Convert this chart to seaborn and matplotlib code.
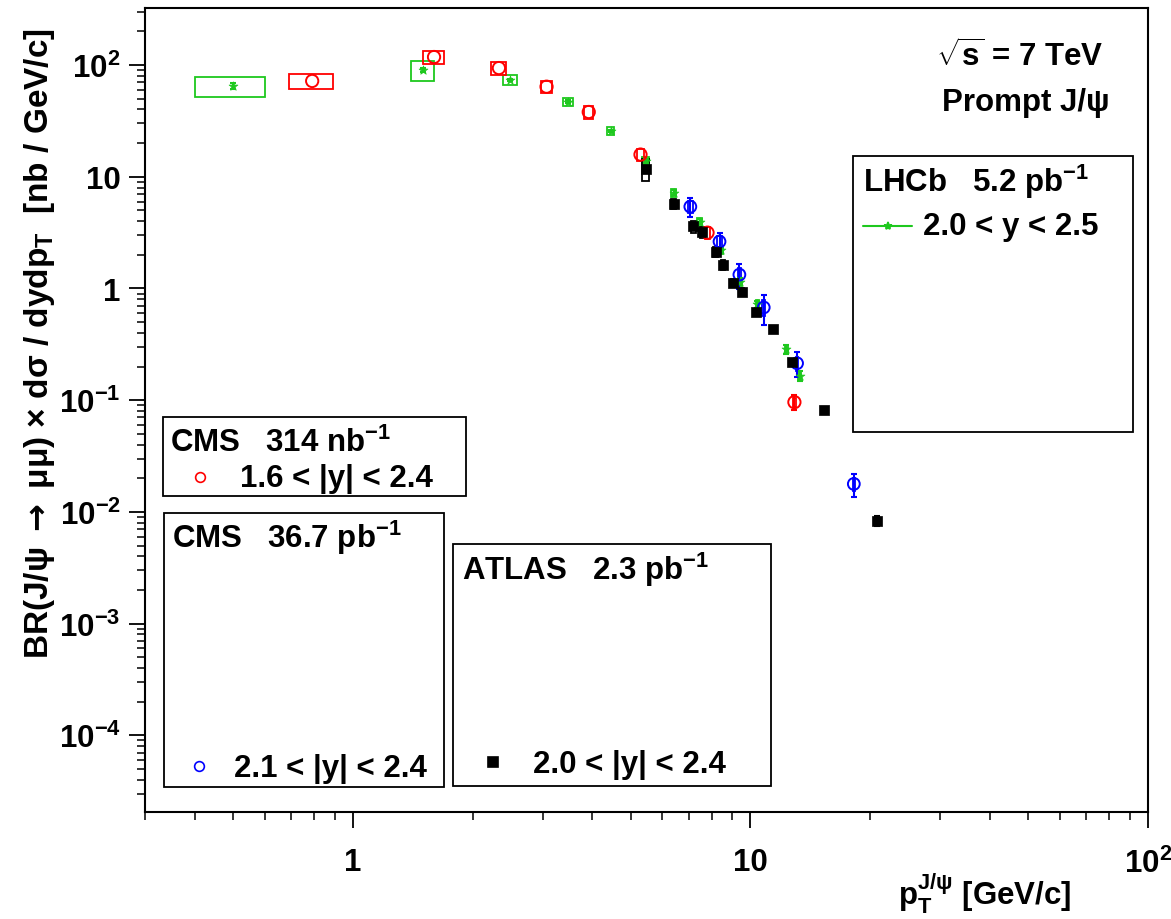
import numpy as np
import pandas as pd
import matplotlib
matplotlib.use("Agg")
import matplotlib.pyplot as plt
import seaborn as sns
from matplotlib.patches import Rectangle
from matplotlib.lines import Line2D
from matplotlib.ticker import FixedLocator, FixedFormatter, LogLocator, NullFormatter

# ---------------- data ----------------
lhcb_pt = [0.50, 1.50, 2.48, 3.47, 4.45, 5.45, 6.41, 7.45, 8.45, 9.44, 10.4, 12.3, 13.3]
lhcb_y = [65, 90, 73.5, 46.8, 25.7, 13.9, 7.2, 3.97, 2.19, 1.15, 0.72, 0.285, 0.166]
lhcb_stat = [0.07, 0.04, 0.03, 0.03, 0.03, 0.04, 0.05, 0.05, 0.06, 0.07, 0.08, 0.09, 0.11]
lhcb_sys = [0.20, 0.20, 0.10, 0.085, 0.075, 0.08, 0.08, 0.08, 0.08, 0.09, 0.09, 0.10, 0.11]

cms1_pt = [0.79, 1.60, 2.33, 3.07, 3.92, 5.29, 7.8, 12.9]
cms1_y = [72, 118, 94, 64, 38, 15.8, 3.16, 0.096]
cms1_stat = [0.02, 0.02, 0.02, 0.03, 0.04, 0.06, 0.07, 0.15]
cms1_sys = [0.16, 0.14, 0.14, 0.13, 0.13, 0.12, 0.12, 0.10]

cms2_pt = [7.06, 8.36, 9.38, 10.8, 13.1, 18.2]
cms2_y = [5.4, 2.63, 1.33, 0.676, 0.214, 0.0178]
cms2_stat = [0.19, 0.20, 0.25, 0.30, 0.25, 0.23]
cms2_sys = [0.12, 0.12, 0.14, 0.16, 0.14, 0.14]

atlas_pt = [5.45, 6.41, 7.19, 7.57, 8.17, 8.55, 9.06, 9.55, 10.35, 11.4, 12.7, 15.3, 20.8]
atlas_y = [11.8, 5.7, 3.6, 3.2, 2.14, 1.63, 1.12, 0.93, 0.62, 0.43, 0.218, 0.081, 0.0083]
atlas_stat = [0.04, 0.04, 0.05, 0.05, 0.05, 0.05, 0.05, 0.05, 0.06, 0.06, 0.07, 0.08, 0.10]
atlas_sys = [0.22, 0.10, 0.12, 0.12, 0.10, 0.10, 0.08, 0.08, 0.08, 0.08, 0.08, 0.08, 0.10]

x_ticks = [1, 10, 100]
x_ticklabels = ["1", "10", r"$10^{2}$"]
y_ticks = [1e-4, 1e-3, 1e-2, 1e-1, 1, 10, 100]
y_ticklabels = [r"$10^{-4}$", r"$10^{-3}$", r"$10^{-2}$", r"$10^{-1}$", "1", "10", r"$10^{2}$"]

GREEN = "#1ec81e"
RED = "#ff0000"
BLUE = "#0000ff"
BLACK = "#000000"
BOX_HALF_WIDTH = 0.1

# ---------------- style ----------------
sns.set_theme(style="ticks")
plt.rcParams["font.family"] = ["Liberation Sans", "DejaVu Sans"]
plt.rcParams["font.weight"] = "bold"
plt.rcParams["text.color"] = "black"
plt.rcParams["axes.labelcolor"] = "black"
plt.rcParams["xtick.color"] = "black"
plt.rcParams["ytick.color"] = "black"
plt.rcParams["mathtext.fontset"] = "custom"
plt.rcParams["mathtext.rm"] = "Liberation Sans:bold"
plt.rcParams["mathtext.it"] = "Liberation Sans:bold"
plt.rcParams["mathtext.bf"] = "Liberation Sans:bold"
plt.rcParams["mathtext.sf"] = "DejaVu Sans"

W, H = 1171, 920
FS = 22.5
fig = plt.figure(figsize=(W / 100, H / 100), dpi=100)
fig.patch.set_facecolor("white")
L, R, T, B = 145, 1148, 9, 813
ax = fig.add_axes([L / W, 1 - B / H, (R - L) / W, (B - T) / H])
ax.set_facecolor("white")
ax.set_xscale("log")
ax.set_yscale("log")


def draw_series(pt, y, stat, sys_, color, marker, filled, size, min_bar):
    pt = np.asarray(pt, float)
    y = np.asarray(y, float)
    stat = np.asarray(stat, float)
    sys_ = np.asarray(sys_, float)
    # systematic boxes
    for xi, yi, si in zip(pt, y, sys_):
        ax.add_patch(Rectangle((xi - BOX_HALF_WIDTH, yi * (1 - si)), 2 * BOX_HALF_WIDTH,
                               yi * 2 * si, fill=False, ec=color, lw=1.3, zorder=3))
    # statistical error bars (hidden by the marker when shorter than it, as in ROOT)
    m = stat >= min_bar
    if m.any():
        ax.errorbar(pt[m], y[m], yerr=[y[m] * stat[m], y[m] * stat[m]], fmt="none",
                    ecolor=color, elinewidth=1.5, capsize=2.5, capthick=1.5, zorder=4)
    df = pd.DataFrame({"pt": pt, "y": y})
    if filled:
        sns.scatterplot(data=df, x="pt", y="y", ax=ax, marker=marker, s=size,
                        color=color, edgecolor=color, linewidth=0.5, legend=False, zorder=5)
    else:
        sns.scatterplot(data=df, x="pt", y="y", ax=ax, marker=marker, s=size,
                        color=color, facecolor="none", edgecolor=color, linewidth=1.4,
                        legend=False, zorder=5)


draw_series(lhcb_pt, lhcb_y, lhcb_stat, lhcb_sys, GREEN, "*", True, 45, 0.0)
draw_series(cms1_pt, cms1_y, cms1_stat, cms1_sys, RED, "o", False, 78, 0.1)
draw_series(cms2_pt, cms2_y, cms2_stat, cms2_sys, BLUE, "o", False, 72, 0.1)
draw_series(atlas_pt, atlas_y, atlas_stat, atlas_sys, BLACK, "s", True, 62, 0.0)

ax.set_xlim(0.3, 100)
ax.set_ylim(2.06e-5, 324)
ax.set_xlabel("")
ax.set_ylabel("")

ax.xaxis.set_major_locator(FixedLocator(x_ticks))
ax.xaxis.set_major_formatter(FixedFormatter(x_ticklabels))
ax.xaxis.set_minor_locator(LogLocator(base=10, subs=np.arange(2, 10)))
ax.xaxis.set_minor_formatter(NullFormatter())
ax.yaxis.set_major_locator(FixedLocator(y_ticks))
ax.yaxis.set_major_formatter(FixedFormatter(y_ticklabels))
ax.yaxis.set_minor_locator(LogLocator(base=10, subs=np.arange(2, 10)))
ax.yaxis.set_minor_formatter(NullFormatter())

ax.tick_params(which="major", direction="out", length=11.5, width=1.3, colors="black",
               labelsize=FS, top=False, right=False)
ax.tick_params(which="minor", direction="out", length=5.5, width=1.1, colors="black",
               top=False, right=False)
ax.tick_params(axis="y", which="major", pad=6)
ax.tick_params(axis="x", which="major", pad=14)
for sp in ax.spines.values():
    sp.set_visible(True)
    sp.set_color("black")
    sp.set_linewidth(1.5)

# ---------------- axis titles ----------------
fig.text(40 / W, 1 - 344 / H,
         r"BR(J/ψ $\mathsf{\rightarrow}$ μμ) × dσ / dydp$_{T}$  [nb / GeV/c]",
         rotation=90, ha="center", va="center", fontsize=24, fontweight="bold")
fig.text(1071 / W, 1 - 906 / H, r"p$_{T}^{J/ψ}$ [GeV/c]", ha="right", va="baseline",
         fontsize=FS, fontweight="bold")

# ---------------- annotations ----------------
fig.text(1020 / W, 1 - 67 / H, r"$\sqrt{s}$ = 7 TeV", ha="center", va="baseline",
         fontsize=FS, fontweight="bold")
fig.text(1026 / W, 1 - 111 / H, "Prompt J/ψ", ha="center", va="baseline",
         fontsize=FS, fontweight="bold")


# ---------------- custom legend boxes ----------------
def fig_box(x0, y0, x1, y1):
    fig.add_artist(Rectangle((x0 / W, 1 - y1 / H), (x1 - x0) / W, (y1 - y0) / H,
                             transform=fig.transFigure, fill=False, ec="black", lw=1.3,
                             zorder=2))


def fig_text(x, y, s):
    fig.text(x / W, 1 - y / H, s, ha="left", va="baseline", fontsize=FS, fontweight="bold")


def fig_marker(x, y, marker, color, filled, ms):
    fig.add_artist(Line2D([x / W], [1 - y / H], transform=fig.transFigure, marker=marker,
                          ms=ms, mfc=color if filled else "none", mec=color, mew=1.2,
                          linestyle="none"))


# LHCb
fig_box(853, 157, 1133, 433)
fig_text(863, 192, "LHCb   5.2 pb$^{-1}$")
fig.add_artist(Line2D([863 / W, 912 / W], [1 - 227 / H, 1 - 227 / H], transform=fig.transFigure,
                      color=GREEN, lw=1.5))
fig_marker(888, 227, "*", GREEN, True, 6)
fig_text(923, 235, "2.0 < y < 2.5")

# CMS 314 nb-1
fig_box(163, 418, 466, 497)
fig_text(170, 452, "CMS   314 nb$^{-1}$")
fig_marker(200, 478, "o", RED, False, 7)
fig_text(240, 487, "1.6 < |y| < 2.4")

# CMS 36.7 pb-1
fig_box(164, 514, 444, 788)
fig_text(172, 548, "CMS   36.7 pb$^{-1}$")
fig_marker(199, 767, "o", BLUE, False, 7)
fig_text(234, 777, "2.1 < |y| < 2.4")

# ATLAS
fig_box(453, 545, 771, 787)
fig_text(462, 580, "ATLAS   2.3 pb$^{-1}$")
fig_marker(493, 763, "s", BLACK, True, 6.5)
fig_text(533, 773, "2.0 < |y| < 2.4")

fig.savefig("out.png", dpi=100, facecolor="white")
